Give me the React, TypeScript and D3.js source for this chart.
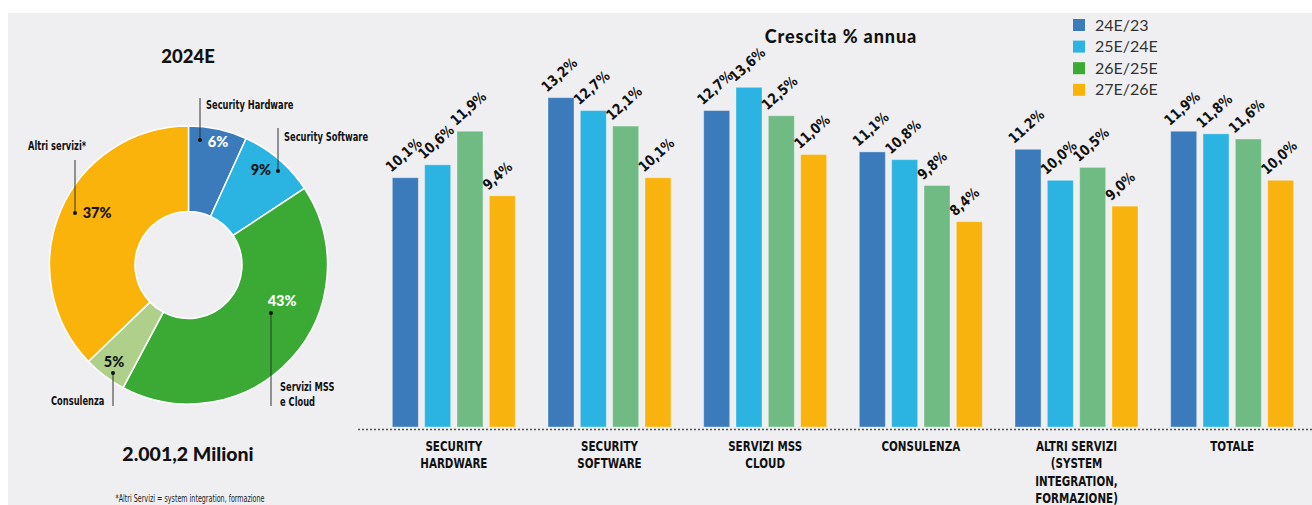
import React from "react";
import * as d3 from "d3";

// ---------- Donut data ----------
const PIE_NAMES = ["Security Hardware", "Security Software", "Servizi MSS\ne Cloud", "Consulenza", "Altri servizi*"];
const PIE_VALUES = [6.8, 8.9, 42.1, 5.0, 37.2];
const PIE_PCT_TEXT = ["6%", "9%", "43%", "5%", "37%"];
const PIE_COLORS = ["#3b7bbb", "#2bb3e1", "#3aaa35", "#aed08a", "#f9b30a"];
const PIE_TEXT_COLORS = ["#ffffff", "#111111", "#ffffff", "#111111", "#111111"];

// ---------- Bar data ----------
const CATEGORIES = [
  "SECURITY\nHARDWARE",
  "SECURITY\nSOFTWARE",
  "SERVIZI MSS\nCLOUD",
  "CONSULENZA",
  "ALTRI SERVIZI\n(SYSTEM\nINTEGRATION,\nFORMAZIONE)",
  "TOTALE",
];
const SERIES = ["24E/23", "25E/24E", "26E/25E", "27E/26E"];
const S_24_23 = [10.1, 13.2, 12.7, 11.1, 11.2, 11.9];
const S_25_24 = [10.6, 12.7, 13.6, 10.8, 10.0, 11.8];
const S_26_25 = [11.9, 12.1, 12.5, 9.8, 10.5, 11.6];
const S_27_26 = [9.4, 10.1, 11.0, 8.4, 9.0, 10.0];
const L_24_23 = ["10,1%", "13,2%", "12,7%", "11,1%", "11.2%", "11,9%"];
const L_25_24 = ["10,6%", "12,7%", "13,6%", "10,8%", "10,0%", "11,8%"];
const L_26_25 = ["11,9%", "12,1%", "12,5%", "9,8%", "10,5%", "11,6%"];
const L_27_26 = ["9,4%", "10,1%", "11,0%", "8,4%", "9,0%", "10,0%"];
const BAR_COLORS = ["#3b7bbb", "#2bb3e1", "#6fbb83", "#f9b30f"];
const LEGEND_COLORS = ["#3b7bbb", "#2bb3e1", "#3aaa35", "#f9b30a"];

// ---------- Layout ----------
const W = 1312;
const H = 505;
const NARROW = "'DejaVu Sans',Verdana,sans-serif";
const GEO = "Lato,'Open Sans',sans-serif";

// donut percent-label placement (polar, relative to donut centre)
const PCT_POS = [
  { a: 13.5, r: 126.5 },
  { a: 37.3, r: 119.5 },
  { a: 111, r: 100.2 },
  { a: 217.5, r: 122.3 },
  { a: 299.6, r: 105.2 },
];
// leader lines: dot (dx,dy from centre), line end y, label anchor
const LEADERS = [
  { dx: 11.5, dy: -125, ey: -167, tx: 17.5, ty: -161 },
  { dx: 89.5, dy: -94, ey: -137, tx: 95.5, ty: -129 },
  { dx: 82.5, dy: 48, ey: 141, tx: 91.5, ty: 121 },
  { dx: -75.5, dy: 108, ey: 141, tx: -137.5, ty: 135 },
  { dx: -113.5, dy: -52, ey: -105, tx: -160.5, ty: -120 },
];

type CTProps = {
  x: number;
  y: number;
  size: number;
  sx: number;
  weight?: number;
  anchor?: "start" | "middle" | "end";
  fill?: string;
  rotate?: number;
  children: React.ReactNode;
  dy?: string;
};

function CondText({ x, y, size, sx, weight = 700, anchor = "start", fill = "#111", rotate = 0, children, dy }: CTProps) {
  return (
    <text
      transform={`translate(${x},${y}) rotate(${rotate}) scale(${sx},1)`}
      textAnchor={anchor}
      fontFamily={NARROW}
      fontWeight={weight}
      fontSize={size}
      fill={fill}
      dy={dy}
    >
      {children}
    </text>
  );
}

export default function App() {
  const cx = 188.5;
  const cy = 265;
  const rOut = 139;
  const rIn = 53.5;

  const pie = d3.pie<number>().sort(null).value((d) => d)(PIE_VALUES);
  const arc = d3.arc<d3.PieArcDatum<number>>().innerRadius(rIn).outerRadius(rOut);

  const seriesVals = [S_24_23, S_25_24, S_26_25, S_27_26];
  const seriesLabels = [L_24_23, L_25_24, L_26_25, L_27_26];

  const x0 = d3.scaleBand<string>().domain(CATEGORIES).range([376, 1310]).paddingInner(0.21).paddingOuter(0.105);
  const x1 = d3.scaleBand<string>().domain(SERIES).range([0, x0.bandwidth()]).paddingInner(0.195).paddingOuter(0);
  const y = d3.scaleLinear().domain([0, 14]).range([438.6, 438.6 - 14 * 25.83]);
  const base = 427;

  return (
    <svg width={W} height={H} style={{ position: "absolute", left: 0, top: 0 }} xmlns="http://www.w3.org/2000/svg">
      <rect x={0} y={0} width={W} height={H} fill="#ffffff" />
      <rect x={8} y={13} width={W - 8} height={H - 13} fill="#efeff2" />

      {/* Left panel */}
      <text x={188} y={63} textAnchor="middle" fontFamily={GEO} fontWeight={900} fontSize={18.5} fill="#111">
        2024E
      </text>
      <g transform={`translate(${cx},${cy})`}>
        {pie.map((p, i) => (
          <path key={i} d={arc(p) || ""} fill={PIE_COLORS[i]} stroke="#ffffff" strokeWidth={1.5} />
        ))}
        {PIE_PCT_TEXT.map((t, i) => {
          const a = (PCT_POS[i].a * Math.PI) / 180;
          return (
            <text
              key={i}
              x={Math.sin(a) * PCT_POS[i].r}
              y={-Math.cos(a) * PCT_POS[i].r}
              dy="0.36em"
              textAnchor="middle"
              fontFamily={GEO}
              fontWeight={900}
              fontSize={14.5}
              fill={PIE_TEXT_COLORS[i]}
            >
              {t}
            </text>
          );
        })}
        {LEADERS.map((l, i) => (
          <g key={i}>
            <line x1={l.dx} y1={l.dy} x2={l.dx} y2={l.ey} stroke="#333" strokeWidth={1} />
            <circle cx={l.dx} cy={l.dy} r={2} fill="#111" />
            {PIE_NAMES[i].split("\n").map((s, j) => (
              <CondText key={j} x={l.tx} y={l.ty + j * 15} size={13} sx={0.64} dy="0.36em">
                {s}
              </CondText>
            ))}
          </g>
        ))}
      </g>
      <text x={188} y={461} textAnchor="middle" fontFamily={GEO} fontWeight={900} fontSize={19.5} fill="#111">
        2.001,2 Milioni
      </text>
      <CondText x={190} y={502} size={10} sx={0.64} weight={400} anchor="middle" fill="#222">
        *Altri Servizi = system integration, formazione
      </CondText>

      {/* Right panel */}
      <text
        x={841}
        y={42.5}
        textAnchor="middle"
        fontFamily={GEO}
        fontWeight={900}
        fontSize={18}
        letterSpacing={0.9}
        fill="#111"
      >
        Crescita % annua
      </text>
      {SERIES.map((s, i) => (
        <g key={s} transform={`translate(1073,${25 + i * 21.6})`}>
          <rect x={0} y={-6} width={12} height={12} fill={LEGEND_COLORS[i]} />
          <text x={22} y={0} dy="0.35em" fontFamily={GEO} fontSize={16} fill="#333">
            {s}
          </text>
        </g>
      ))}

      {CATEGORIES.map((c, ci) => (
        <g key={c} transform={`translate(${x0(c)},0)`}>
          {SERIES.map((s, si) => {
            const v = seriesVals[si][ci];
            const bx = x1(s) as number;
            const top = y(v);
            return (
              <g key={s}>
                <rect
                  x={bx}
                  y={top}
                  width={x1.bandwidth()}
                  height={base - top}
                  fill={BAR_COLORS[si]}
                  stroke="#ffffff"
                  strokeOpacity={0.35}
                  strokeWidth={1}
                />
                <CondText x={bx - 1} y={top - 5} size={14.5} sx={0.84} rotate={-42}>
                  {seriesLabels[si][ci]}
                </CondText>
              </g>
            );
          })}
          {c.split("\n").map((line, li) => (
            <CondText key={li} x={x0.bandwidth() / 2} y={450.5 + li * 17.5} size={14} sx={0.74} anchor="middle">
              {line}
            </CondText>
          ))}
        </g>
      ))}
      <line x1={358} x2={W} y1={429.5} y2={429.5} stroke="#555" strokeWidth={1.5} strokeDasharray="2,2" />
    </svg>
  );
}
